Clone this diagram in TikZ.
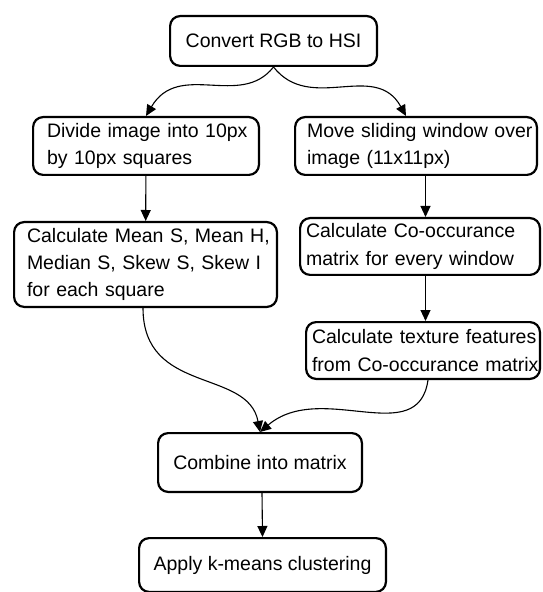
\documentclass[tikz,border=0pt]{standalone}
\usepackage{fontspec}
\setmainfont{Liberation Sans}
\usetikzlibrary{arrows.meta}
\hyphenpenalty=10000
\exhyphenpenalty=10000
\begin{document}
\begin{tikzpicture}[->, >={Triangle[length=5.5pt,width=5pt]}, x=0.5pt, y=-0.5pt, line width=0.55pt,
        main node/.style={draw, rounded corners=5pt, line width=1.1pt, inner ysep=2pt},
        text node/.style={main node, align=left}]
        \tikzstyle{every node}=[font=\fontsize{9.75pt}{13.65pt}\selectfont]
        \useasboundingbox (0,0) rectangle (542,592);

          \node[main node, minimum width=103.4pt, minimum height=24.9pt] (1) at (273.5,41) {Convert RGB to HSI};
          \node[text node, inner xsep=6.95pt, text width=99pt, minimum height=28.9pt] (2) at (146,146) {Divide~image~into~10px\\by 10px squares};
          \node[text node, inner xsep=5.95pt, text width=109pt, minimum height=28.9pt] (3) at (416,146) {Move~sliding~window~over\\image (11x11px)};
          \node[text node, inner xsep=6.45pt, text width=118.5pt, minimum height=42.4pt] (4) at (145.5,264.5) {Calculate~Mean~S,~Mean~H,\\Median S, Skew S, Skew I\\for each square};
          \node[text node, inner xsep=2.95pt, text width=114pt, minimum height=28.4pt] (5) at (420,246.5) {Calculate Co-occurance\\matrix for every window};
          \node[text node, inner xsep=2.95pt, text width=111pt, minimum height=28.4pt] (6) at (423,350.5) {Calculate~texture~features\\from~Co-occurance~matrix};
          \node[main node, minimum width=101.9pt, minimum height=29.4pt] (7) at (260,462.5) {Combine into matrix};
          \node[main node, minimum width=123.4pt, minimum height=26.9pt] (8) at (262.5,565) {Apply k-means clustering};

          \path
            (2) edge (4)
            ([xshift=4.75pt]3.south) edge ([xshift=2.75pt]5.north)
            ([xshift=2.75pt]5.south) edge ([xshift=1.25pt]6.north)
            ([xshift=1pt]7.south) edge (8.north);
          \draw (1.south) .. controls +(-33,42) and +(33,-56) .. (2.north);
          \draw (1.south) .. controls +(37,47) and +(-31,-56) .. ([xshift=-5pt]3.north);
          \draw ([xshift=-1.25pt]4.south) .. controls +(0,87) and +(-12,-64) .. (7.north);
          \draw ([xshift=2.5pt]6.south) .. controls +(-10,70) and +(61,-52) .. (7.north);

        \end{tikzpicture}
\end{document}
